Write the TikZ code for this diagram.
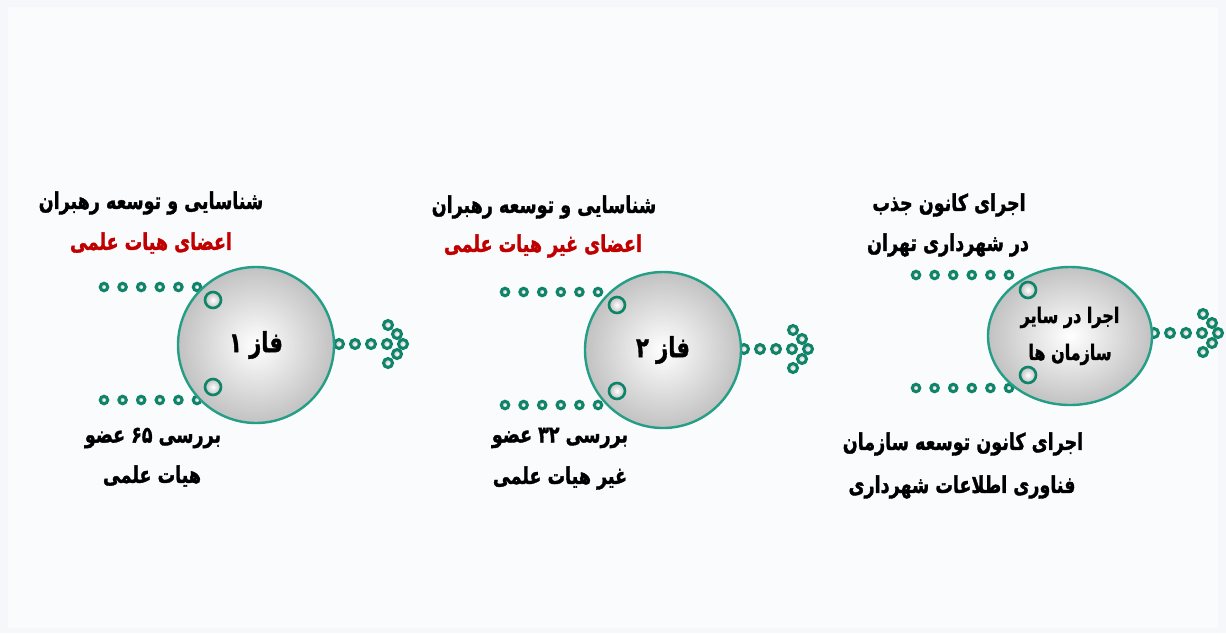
\documentclass[tikz,border=0pt]{standalone}
\usepackage{fontspec}
\usetikzlibrary{shapes.geometric}
\TeXXeTstate=1
\newfontfamily\farsifont[Script=Arabic, BoldFeatures={FakeBold=1.6}]{DejaVu Sans}
\newcommand{\fatext}[1]{\scalebox{1}[1.32]{\beginR #1\endR}}
\definecolor{ringG}{RGB}{36,158,134}
\definecolor{beadG}{RGB}{14,132,104}
\definecolor{titleR}{RGB}{192,0,0}
\definecolor{paperB}{RGB}{246,247,250}
\definecolor{panelB}{RGB}{250,251,252}

\begin{document}
\begin{tikzpicture}[
  x=1pt, y=-1pt,
  phase/.style={circle, draw=ringG, line width=2.4pt, inner color=white, outer color=black!24,
    minimum size=156pt, inner sep=0pt, font=\farsifont\bfseries\fontsize{21}{26}\selectfont},
  pin/.style={circle, draw=beadG, line width=2.6pt, inner color=white, outer color=black!25,
    minimum size=16pt, inner sep=0pt},
  bead/.style={circle, draw=beadG, line width=3pt, inner color=white, outer color=black!30,
    minimum size=7.5pt, inner sep=0pt},
  bigbead/.style={bead, minimum size=9pt},
  sidetext/.style={font=\farsifont\bfseries\fontsize{17.5}{20}\selectfont, inner sep=0pt},
  hottext/.style={sidetext, text=titleR}]

  % paper
  \fill[paperB] (0,0) rectangle (1226,633);
  \fill[panelB] (8,7) rectangle (1218,628);
  \useasboundingbox (0,0) rectangle (1226,633);

  % arrow tips of the bead arrows
  \coordinate (tip1) at (403,344);
  \coordinate (tip2) at (808,349);
  \coordinate (tip3) at (1218,333);

  % bead rows running into each phase
  \foreach \i in {0,...,5} {
    \node[bead] (r1t\i) at (104+18.6*\i,287) {};
    \node[bead] (r1b\i) at (104+18.6*\i,400) {};
    \node[bead] (r2t\i) at (505+18.6*\i,292) {};
    \node[bead] (r2b\i) at (505+18.6*\i,405) {};
    \node[bead] (r3t\i) at (916+18.6*\i,275) {};
    \node[bead] (r3b\i) at (916+18.6*\i,388) {};
  }

  % bead arrows leaving each phase
  \foreach \dx/\dy [count=\k] in {-64/0,-48/0,-32/0,-16/0,-15/-19,-6/-10,0/0,-6/10,-15/19} {
    \node[bigbead] (a1\k) at ([shift={(\dx,\dy)}]tip1) {};
    \node[bigbead] (a2\k) at ([shift={(\dx,\dy)}]tip2) {};
    \node[bigbead] (a3\k) at ([shift={(\dx,\dy)}]tip3) {};
  }

  % phases
  \node[phase] (faz1) at (256,345) {\fatext{فاز ۱}};
  \node[phase] (faz2) at (663,350) {\fatext{فاز ۲}};
  \node[phase, ellipse, minimum width=164pt, minimum height=138pt, align=center,
    font=\farsifont\bfseries\fontsize{16}{37}\selectfont] (faz3) at (1070,336)
    {\fatext{اجرا در سایر}\\\fatext{سازمان ها}};

  % pins on the rims
  \node[pin] (p1a) at (213,300) {};
  \node[pin] (p1b) at (213,387) {};
  \node[pin] (p2a) at (617,305) {};
  \node[pin] (p2b) at (617,391) {};
  \node[pin] (p3a) at (1028,290) {};
  \node[pin] (p3b) at (1028,375) {};

  % phase 1 texts
  \node[sidetext] (t1a) at (151,203) {\fatext{شناسایی و توسعه رهبران}};
  \node[hottext]  (t1b) at (151,243) {\fatext{اعضای هیات علمی}};
  \node[sidetext] (t1c) at (153,438) {\fatext{بررسی ۶۵ عضو}};
  \node[sidetext] (t1d) at (152,476) {\fatext{هیات علمی}};

  % phase 2 texts
  \node[sidetext] (t2a) at (544,207) {\fatext{شناسایی و توسعه رهبران}};
  \node[hottext]  (t2b) at (543,246) {\fatext{اعضای غیر هیات علمی}};
  \node[sidetext] (t2c) at (560,438) {\fatext{بررسی ۳۲ عضو}};
  \node[sidetext] (t2d) at (560,478) {\fatext{غیر هیات علمی}};

  % phase 3 texts
  \node[sidetext] (t3a) at (949,205) {\fatext{اجرای کانون جذب}};
  \node[sidetext] (t3b) at (948,245) {\fatext{در شهرداری تهران}};
  \node[sidetext] (t3c) at (963,444) {\fatext{اجرای کانون توسعه سازمان}};
  \node[sidetext] (t3d) at (962,487) {\fatext{فناوری اطلاعات شهرداری}};
\end{tikzpicture}
\end{document}
